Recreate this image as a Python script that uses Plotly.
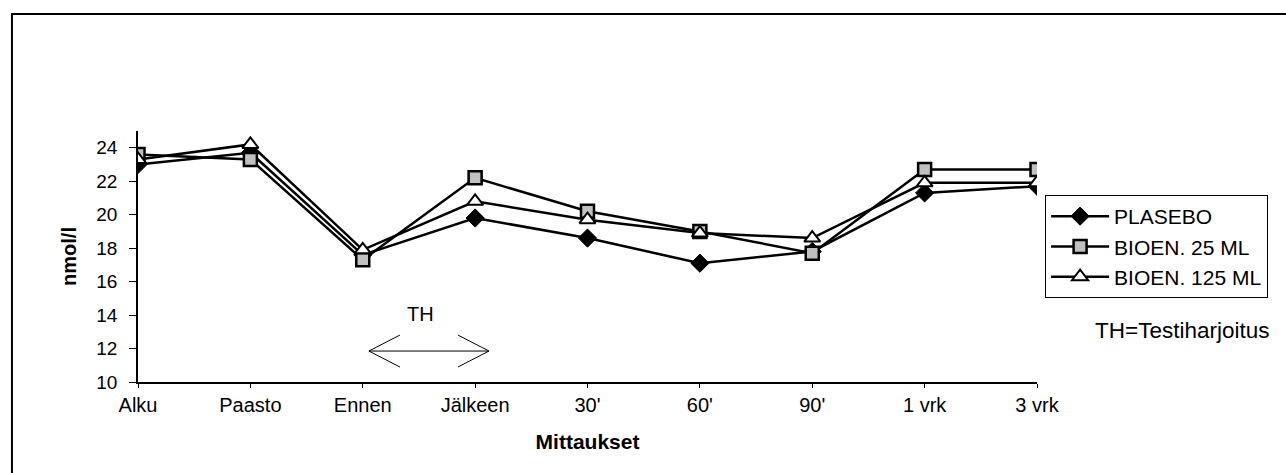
import plotly.graph_objects as go

categories = ["Alku", "Paasto", "Ennen", "Jälkeen", "30'", "60'", "90'", "1 vrk", "3 vrk"]
plasebo = [23.0, 23.7, 17.6, 19.8, 18.6, 17.1, 17.8, 21.3, 21.7]
bioen25 = [23.6, 23.3, 17.3, 22.2, 20.2, 19.0, 17.7, 22.7, 22.7]
bioen125 = [23.3, 24.2, 17.9, 20.8, 19.7, 18.9, 18.6, 21.9, 21.9]
series_names = ["PLASEBO", "BIOEN. 25 ML", "BIOEN. 125 ML"]
y_ticks = [10, 12, 14, 16, 18, 20, 22, 24]

FONT = "Liberation Sans, Arial, sans-serif"
x_idx = list(range(len(categories)))

fig = go.Figure()
styles = [
    dict(symbol="diamond", size=14, color="black", line=dict(color="black", width=1)),
    dict(symbol="square", size=13, color="#c0c0c0", line=dict(color="black", width=2.5)),
    dict(symbol="triangle-up", size=14, color="white", line=dict(color="black", width=2)),
]
for name, vals, mk in zip(series_names, [plasebo, bioen25, bioen125], styles):
    fig.add_trace(go.Scatter(
        x=x_idx, y=vals, name=name, mode="lines+markers",
        line=dict(color="black", width=2.5), marker=mk,
    ))

# TH arrow (double headed, open heads)
ax0, ax1, ay = 2.055, 3.123, 11.85
hx, hy = 0.276, 0.956
shapes = [
    dict(type="line", xref="x", yref="y", x0=ax0, x1=ax1, y0=ay, y1=ay, line=dict(color="black", width=1)),
    dict(type="line", xref="x", yref="y", x0=ax0, x1=ax0 + hx, y0=ay, y1=ay + hy, line=dict(color="black", width=1)),
    dict(type="line", xref="x", yref="y", x0=ax0, x1=ax0 + hx, y0=ay, y1=ay - hy, line=dict(color="black", width=1)),
    dict(type="line", xref="x", yref="y", x0=ax1, x1=ax1 - hx, y0=ay, y1=ay + hy, line=dict(color="black", width=1)),
    dict(type="line", xref="x", yref="y", x0=ax1, x1=ax1 - hx, y0=ay, y1=ay - hy, line=dict(color="black", width=1)),
    # outer chart frame (partially cropped)
    dict(type="rect", xref="paper", yref="paper", x0=-0.1402, x1=1.32, y0=-0.45, y1=1.466,
         line=dict(color="black", width=2), fillcolor="rgba(0,0,0,0)"),
]

fig.update_layout(
    width=1286, height=473,
    margin=dict(l=138, r=249, t=131, b=91),
    paper_bgcolor="white", plot_bgcolor="white",
    font=dict(family=FONT, size=20, color="black"),
    showlegend=True,
    legend=dict(
        x=1.009, y=0.745, xanchor="left", yanchor="top",
        bordercolor="black", borderwidth=1, bgcolor="white",
        font=dict(size=21, family=FONT), tracegroupgap=0, itemwidth=58,
    ),
    xaxis=dict(
        tickmode="array", tickvals=x_idx, ticktext=categories,
        range=[0, 8], showgrid=False, zeroline=False,
        showline=True, linecolor="black", linewidth=1.5,
        ticks="outside", ticklen=4, tickcolor="black",
        tickfont=dict(size=20),
        title=dict(text="<b>Mittaukset</b>", font=dict(size=21), standoff=20),
    ),
    yaxis=dict(
        tickmode="array", tickvals=y_ticks,
        range=[10, 25], showgrid=False, zeroline=False,
        showline=True, linecolor="black", linewidth=1.5,
        ticks="outside", ticklen=7, tickcolor="black",
        tickfont=dict(size=19), ticklabelstandoff=8,
        title=dict(text="<b>nmol/l</b>", font=dict(size=20), standoff=14),
    ),
    shapes=shapes,
    annotations=[
        dict(text="TH", x=2.518, y=14.06, xref="x", yref="y", showarrow=False,
             xanchor="center", yanchor="middle", font=dict(size=20, family=FONT)),
        dict(text="TH=Testiharjoitus", x=1.161, y=0.207, xref="paper", yref="paper",
             showarrow=False, xanchor="center", yanchor="middle",
             font=dict(size=22.5, family=FONT)),
    ],
)

fig.write_html("out.html")
